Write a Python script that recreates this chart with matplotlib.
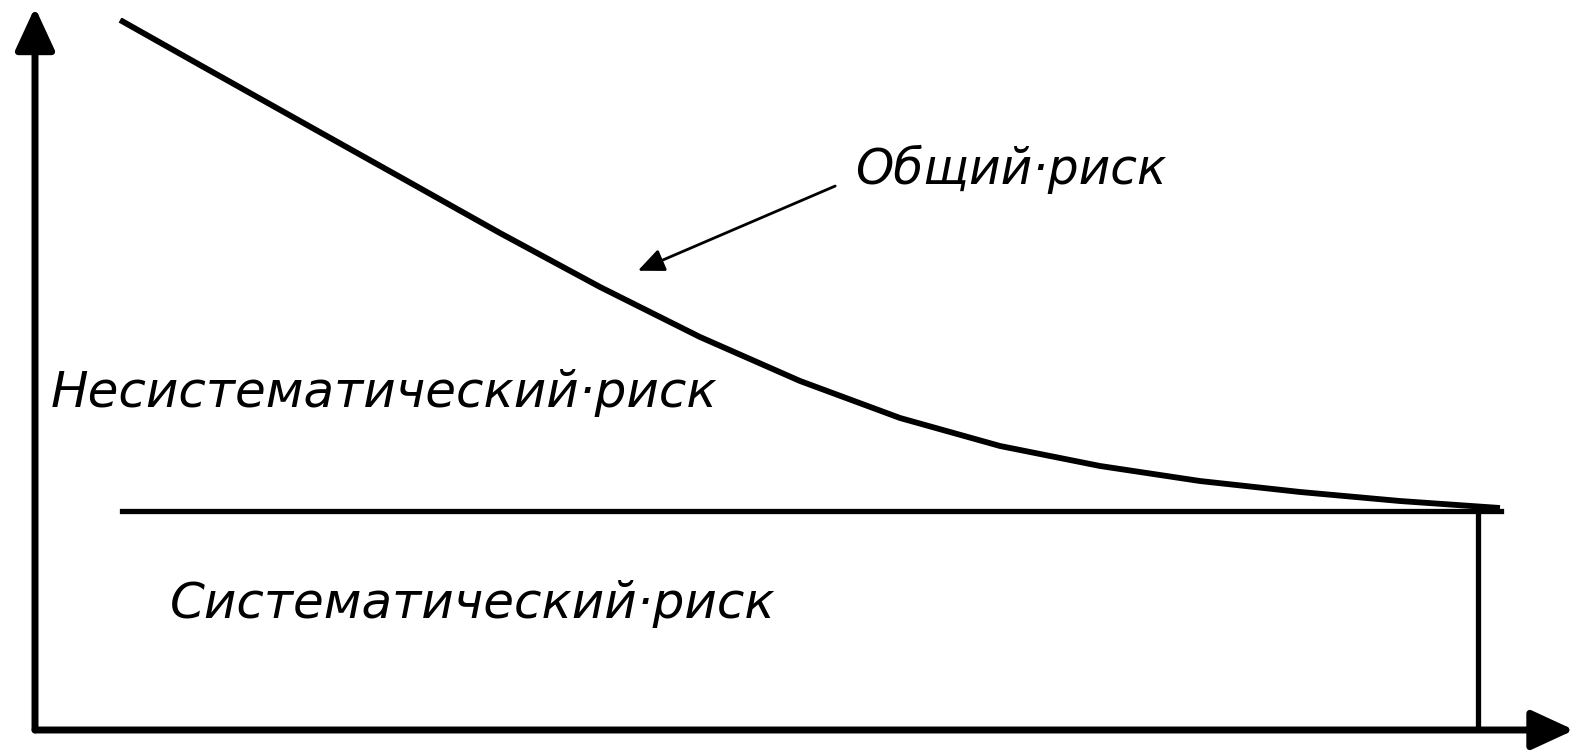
import matplotlib.pyplot as plt
import numpy as np

# total risk curve (number of securities in portfolio vs risk, arbitrary units)
n_assets = [5.56, 10.78, 17.32, 23.86, 30.39, 36.93, 43.46, 50.0, 56.54, 63.07, 69.61, 76.14, 82.68, 89.22, 95.75]
total_risk = [99.72, 93.4, 85.53, 77.67, 69.8, 62.22, 55.2, 49.02, 43.82, 39.89, 37.08, 34.97, 33.43, 32.16, 31.18]

# systematic risk level
sys_risk = 30.7
sys_start = 5.7
sys_end = 95.8
n_end = 94.3

labels = ["Общий·риск", "Несистематический·риск", "Систематический·риск"]

plt.rcParams['font.family'] = ['DejaVu Sans']

fig = plt.figure(figsize=(15.71, 7.51), dpi=100)
ax = fig.add_axes([35/1571, 21/751, 1530/1571, 712/751])
ax.set_xlim(0, 100)
ax.set_ylim(0, 100)
ax.axis('off')

ax.plot(n_assets, total_risk, color='black', lw=4.2, solid_capstyle='butt', solid_joinstyle='round')
ax.plot([sys_start, sys_end], [sys_risk, sys_risk], color='black', lw=3.8)
ax.plot([n_end, n_end], [0, sys_risk], color='black', lw=3.8)

# axes with arrows
head = '-|>,head_length=2.6,head_width=1.2'
ax.annotate('', xy=(0, 101.5), xytext=(0, 0), annotation_clip=False,
            arrowprops=dict(arrowstyle=head, color='black', lw=5, shrinkA=0, shrinkB=0))
ax.annotate('', xy=(100.6, 0), xytext=(0, 0), annotation_clip=False,
            arrowprops=dict(arrowstyle=head, color='black', lw=5, shrinkA=0, shrinkB=0))

# pointer to the total risk curve
ax.annotate('', xy=(39.4, 64.5), xytext=(52.3, 76.4),
            arrowprops=dict(arrowstyle='-|>,head_length=1.6,head_width=0.7', color='black', lw=2.0, shrinkA=0, shrinkB=0))

ax.text(53.6, 78.7, labels[0], fontsize=35, style='oblique', va='center', ha='left')
ax.text(1.0, 47.3, labels[1], fontsize=36, style='oblique', va='center', ha='left')
ax.text(8.8, 17.7, labels[2], fontsize=36, style='oblique', va='center', ha='left')

fig.savefig('out.png', dpi=100, facecolor='white')
